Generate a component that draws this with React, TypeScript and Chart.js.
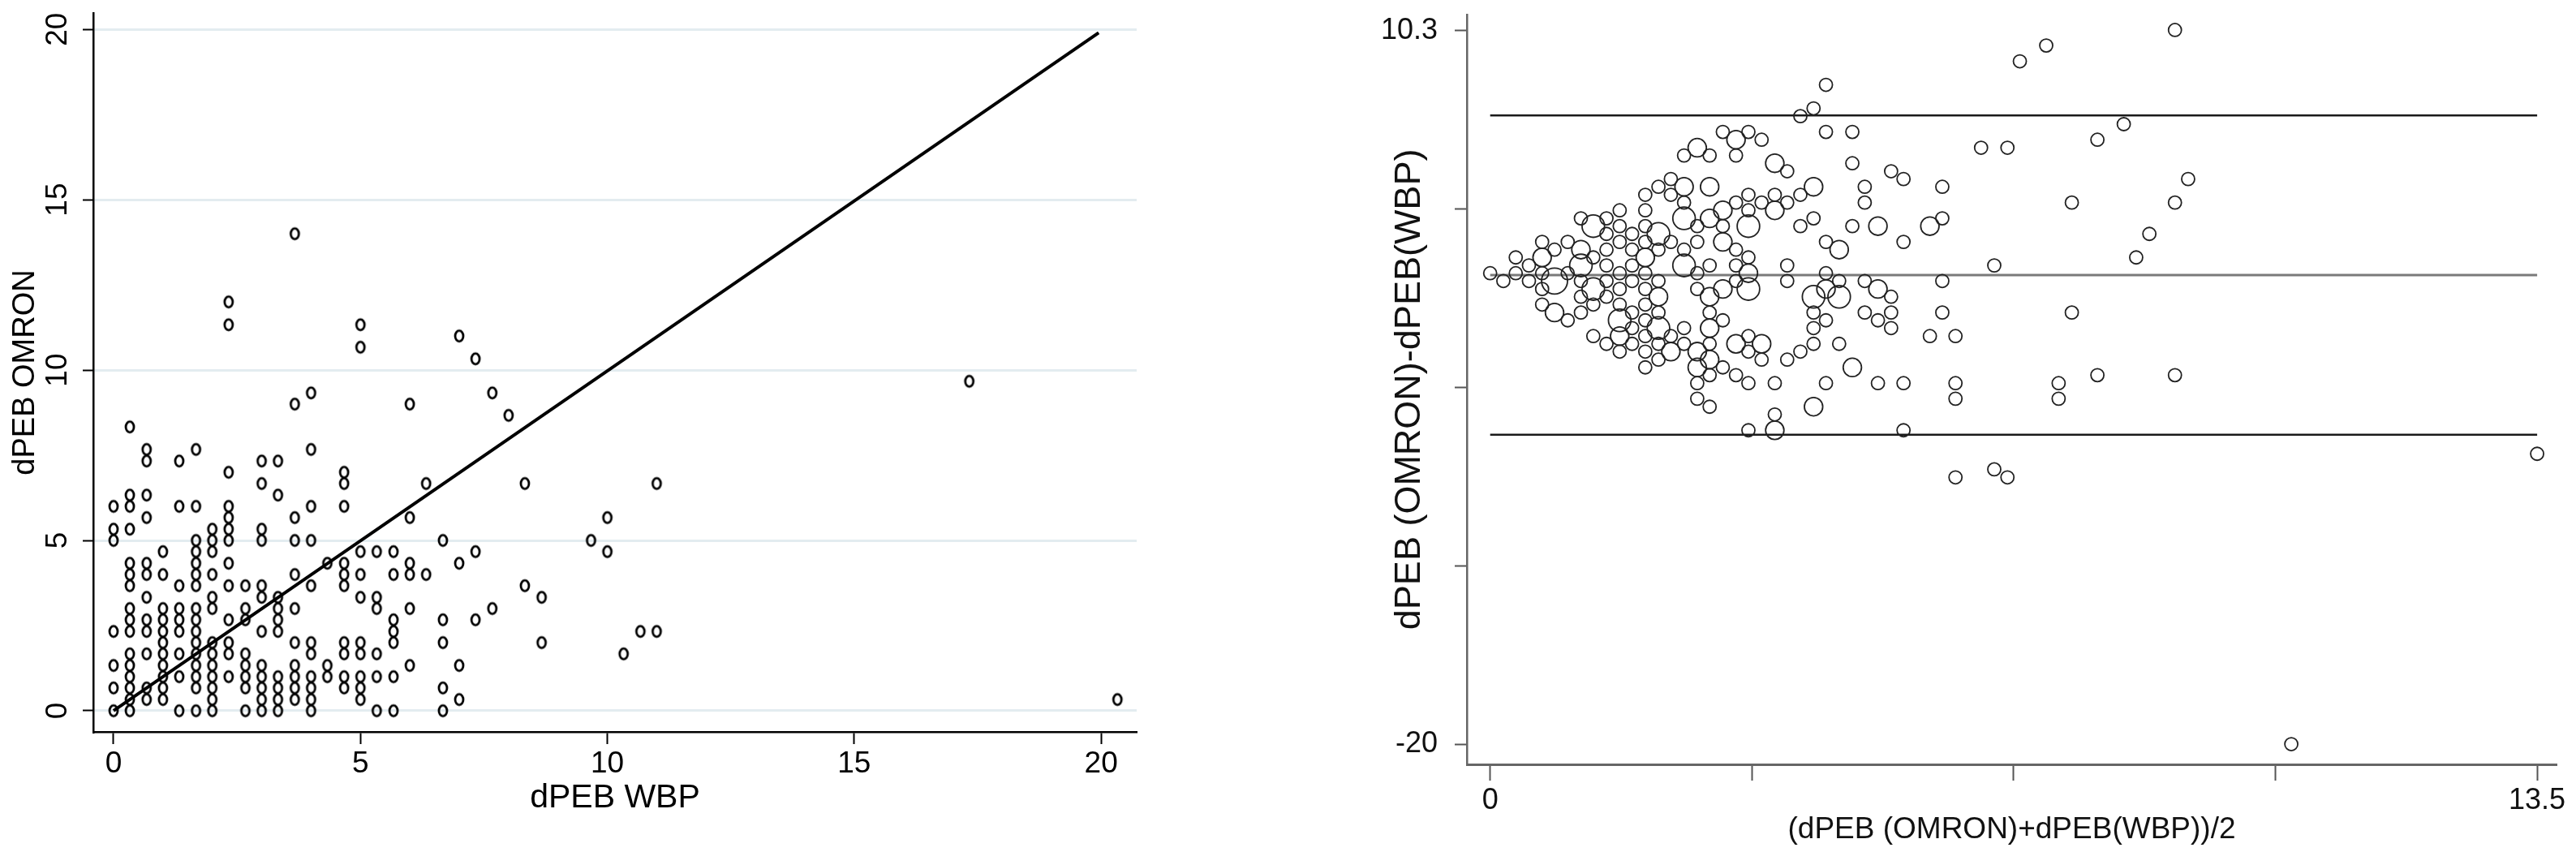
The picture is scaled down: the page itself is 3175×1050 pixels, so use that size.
import React, { useEffect, useRef } from "react";
import { Chart, registerables } from "chart.js";

Chart.register(...registerables);

const FONT = "'Liberation Sans', Arial, Helvetica, sans-serif";

// ---------------- Left panel: dPEB OMRON vs dPEB WBP ----------------
const wbpColumns = [
  0, 0.33, 0.67, 1, 1.33, 1.67, 2, 2.33, 2.67, 3, 3.33, 3.67, 4, 4.33, 4.67, 5,
  5.33, 5.67, 6, 6.33, 6.67, 7, 7.33, 7.67, 8, 8.33, 8.67, 9.67, 10, 10.33, 10.67,
  11, 17.33, 20.33,
];
const omronByColumn = [
  [6, 5.33, 5, 2.33, 1.33, 0.67, 0],
  [8.33, 6.33, 6, 5.33, 4.33, 4, 3.67, 3, 2.67, 2.33, 1.67, 1.33, 1, 0.67, 0.33, 0],
  [7.67, 7.33, 6.33, 5.67, 4.33, 4, 3.33, 2.67, 2.33, 1.67, 0.67, 0.33],
  [4.67, 4, 3, 2.67, 2.33, 2, 1.67, 1.33, 1, 0.67, 0.33],
  [7.33, 6, 3.67, 3, 2.67, 2.33, 1.67, 1, 0],
  [7.67, 6, 5, 4.67, 4.33, 4, 3.67, 3, 2.67, 2.33, 2, 1.67, 1.33, 1, 0.67, 0],
  [5.33, 5, 4.67, 4, 3.33, 3, 2, 1.67, 1.33, 1, 0.67, 0.33, 0],
  [12, 11.33, 7, 6, 5.67, 5.33, 5, 4.33, 3.67, 2.67, 2, 1.67, 1],
  [3.67, 3, 2.67, 1.67, 1.33, 1, 0.67, 0],
  [7.33, 6.67, 5.33, 5, 3.67, 3.33, 2.33, 1.33, 1, 0.67, 0.33, 0],
  [7.33, 6.33, 3.33, 3, 2.67, 2.33, 1, 0.67, 0.33, 0],
  [14, 9, 5.67, 5, 4, 3, 2, 1.33, 1, 0.67, 0.33],
  [9.33, 7.67, 6, 5, 3.67, 2, 1.67, 1, 0.67, 0.33, 0],
  [4.33, 1.33, 1],
  [7, 6.67, 6, 4.33, 4, 3.67, 2, 1.67, 1, 0.67],
  [11.33, 10.67, 4.67, 4, 3.33, 2, 1.67, 1, 0.67, 0.33],
  [4.67, 3.33, 3, 1.67, 1, 0],
  [4.67, 4, 2.67, 2.33, 2, 1, 0],
  [9, 5.67, 4.33, 4, 3, 1.33],
  [6.67, 4],
  [5, 2.67, 2, 0.67, 0],
  [11, 4.33, 1.33, 0.33],
  [10.33, 4.67, 2.67],
  [9.33, 3],
  [8.67],
  [6.67, 3.67],
  [3.33, 2],
  [5],
  [5.67, 4.67],
  [1.67],
  [2.33],
  [6.67, 2.33],
  [9.67],
  [0.33],
];
const leftXTicks = [0, 5, 10, 15, 20];
const leftYTicks = [0, 5, 10, 15, 20];
const identityX = [0, 19.95];
const identityY = [0, 19.9];

// ---------------- Right panel: Bland-Altman ----------------
const baMean = [
  [3, 2.67, 2.5, 1.17, 0.67, 0.33, 0],
  [4.33, 3.33, 3.17, 2.83, 2.33, 2.17, 2, 1.67, 1.5, 1.33, 1, 0.83, 0.67, 0.5, 0.33, 0.17],
  [4.17, 4, 3.5, 3.17, 2.5, 2.33, 2, 1.67, 1.5, 1.17, 0.67, 0.5],
  [2.83, 2.5, 2, 1.83, 1.67, 1.5, 1.33, 1.17, 1, 0.83, 0.67],
  [4.33, 3.67, 2.5, 2.17, 2, 1.83, 1.5, 1.17, 0.67],
  [4.67, 3.83, 3.33, 3.17, 3, 2.83, 2.67, 2.33, 2.17, 2, 1.83, 1.67, 1.5, 1.33, 1.17, 0.83],
  [3.67, 3.5, 3.33, 3, 2.67, 2.5, 2, 1.83, 1.67, 1.5, 1.33, 1.17, 1],
  [7.17, 6.83, 4.67, 4.17, 4, 3.83, 3.67, 3.33, 3, 2.5, 2.17, 2, 1.67],
  [3.17, 2.83, 2.67, 2.17, 2, 1.83, 1.67, 1.33],
  [5.17, 4.83, 4.17, 4, 3.33, 3.17, 2.67, 2.17, 2, 1.83, 1.67, 1.5],
  [5.33, 4.83, 3.33, 3.17, 3, 2.83, 2.17, 2, 1.83, 1.67],
  [8.83, 6.33, 4.67, 4.33, 3.83, 3.33, 2.83, 2.5, 2.33, 2.17, 2],
  [6.67, 5.83, 5, 4.5, 3.83, 3, 2.83, 2.5, 2.33, 2.17, 2],
  [4.33, 2.83, 2.67],
  [5.83, 5.67, 5.33, 4.5, 4.33, 4.17, 3.33, 3.17, 2.83, 2.67],
  [8.17, 7.83, 4.83, 4.5, 4.17, 3.5, 3.33, 3, 2.83, 2.67],
  [5, 4.33, 4.17, 3.5, 3.17, 2.67],
  [5.17, 4.83, 4.17, 4, 3.83, 3.33, 2.83],
  [7.5, 5.83, 5.17, 5, 4.5, 3.67],
  [6.5, 5.17],
  [5.83, 4.67, 4.33, 3.67, 3.33],
  [9, 5.67, 4.17, 3.67],
  [8.83, 6, 5],
  [8.5, 5.33],
  [8.33],
  [7.5, 6],
  [6, 5.33],
  [7.33],
  [7.83, 7.33],
  [6],
  [6.5],
  [8.83, 6.67],
  [13.5],
  [10.33],
];
const baDiff = [
  [6, 5.33, 5, 2.33, 1.33, 0.67, 0],
  [8, 6, 5.67, 5, 4, 3.67, 3.33, 2.67, 2.33, 2, 1.33, 1, 0.67, 0.33, 0, -0.33],
  [7, 6.67, 5.67, 5, 3.67, 3.33, 2.67, 2, 1.67, 1, 0, -0.33],
  [3.67, 3, 2, 1.67, 1.33, 1, 0.67, 0.33, 0, -0.33, -0.67],
  [6, 4.67, 2.33, 1.67, 1.33, 1, 0.33, -0.33, -1.33],
  [6, 4.33, 3.33, 3, 2.67, 2.33, 2, 1.33, 1, 0.67, 0.33, 0, -0.33, -0.67, -1, -1.67],
  [3.33, 3, 2.67, 2, 1.33, 1, 0, -0.33, -0.67, -1, -1.33, -1.67, -2],
  [9.67, 9, 4.67, 3.67, 3.33, 3, 2.67, 2, 1.33, 0.33, -0.33, -0.67, -1.33],
  [1, 0.33, 0, -1, -1.33, -1.67, -2, -2.67],
  [4.33, 3.67, 2.33, 2, 0.67, 0.33, -0.67, -1.67, -2, -2.33, -2.67, -3],
  [4, 3, 0, -0.33, -0.67, -1, -2.33, -2.67, -3, -3.33],
  [10.33, 5.33, 2, 1.33, 0.33, -0.67, -1.67, -2.33, -2.67, -3, -3.33],
  [5.33, 3.67, 2, 1, -0.33, -2, -2.33, -3, -3.33, -3.67, -4],
  [0, -3, -3.33],
  [2.33, 2, 1.33, -0.33, -0.67, -1, -2.67, -3, -3.67, -4],
  [6.33, 5.67, -0.33, -1, -1.67, -3, -3.33, -4, -4.33, -4.67],
  [-0.67, -2, -2.33, -3.67, -4.33, -5.33],
  [-1, -1.67, -3, -3.33, -3.67, -4.67, -5.67],
  [3, -0.33, -1.67, -2, -3, -4.67],
  [0.33, -2.33],
  [-1.67, -4, -4.67, -6, -6.67],
  [4, -2.67, -5.67, -6.67],
  [3, -2.67, -4.67],
  [1.67, -4.67],
  [0.67],
  [-1.67, -4.67],
  [-5.33, -6.67],
  [-4.67],
  [-4.33, -5.33],
  [-8.67],
  [-8.33],
  [-4.33, -8.67],
  [-7.67],
  [-20],
];
const baCount = [
  [1, 2, 1, 1, 1, 1, 1],
  [1, 1, 2, 1, 1, 1, 1, 1, 1, 3, 1, 1, 2, 1, 1, 1],
  [1, 1, 1, 1, 2, 1, 1, 1, 1, 2, 1, 1],
  [2, 1, 1, 1, 1, 1, 1, 3, 1, 4, 1],
  [1, 2, 3, 3, 1, 1, 1, 1, 1],
  [1, 1, 1, 1, 2, 2, 1, 1, 1, 2, 1, 1, 1, 3, 1, 2],
  [1, 1, 1, 1, 1, 1, 1, 1, 1, 1, 1, 1, 1],
  [1, 1, 1, 2, 1, 1, 2, 3, 2, 3, 1, 1, 1],
  [1, 1, 1, 2, 1, 1, 3, 1],
  [1, 1, 1, 1, 1, 1, 1, 1, 1, 1, 2, 1],
  [1, 1, 2, 1, 2, 2, 3, 1, 1, 1],
  [1, 1, 1, 1, 1, 3, 1, 1, 1, 1, 1],
  [1, 1, 2, 2, 1, 1, 2, 1, 2, 1, 1],
  [1, 1, 2],
  [1, 2, 1, 1, 2, 3, 1, 2, 2, 2],
  [1, 1, 1, 3, 1, 2, 1, 1, 1, 1],
  [2, 1, 1, 1, 1, 1],
  [1, 1, 1, 1, 1, 1, 1],
  [1, 1, 1, 1, 1, 1],
  [1, 1],
  [1, 2, 1, 1, 1],
  [1, 1, 2, 2],
  [1, 1, 1],
  [1, 1],
  [1],
  [1, 1],
  [1, 1],
  [1],
  [1, 1],
  [1],
  [1],
  [1, 1],
  [1],
  [1],
];
const baXTicks = [0, 3.375, 6.75, 10.125, 13.5];
const baXLabels = ["0", "", "", "", "13.5"];
const baYTicks = [-20, -12.425, -4.85, 2.725, 10.3];
const baYLabels = ["-20", "", "", "", "10.3"];
const baLineX = [0, 13.5];
const baUpperLimit = 6.7;
const baMeanDiff = -0.08;
const baLowerLimit = -6.86;

const BUBBLE_BASE_R = 8;

function makeEllipseMarker(rx: number, ry: number, lw: number) {
  const c = document.createElement("canvas");
  const w = Math.ceil(2 * (rx + lw) + 2);
  const h = Math.ceil(2 * (ry + lw) + 2);
  c.width = w;
  c.height = h;
  const ctx = c.getContext("2d")!;
  ctx.strokeStyle = "#000";
  ctx.lineWidth = lw;
  ctx.beginPath();
  ctx.ellipse(w / 2, h / 2, rx, ry, 0, 0, Math.PI * 2);
  ctx.stroke();
  return c;
}

const leftYLabelPlugin = {
  id: "leftYLabels",
  afterDraw(chart: any) {
    const s = chart.scales.y;
    const ctx = chart.ctx;
    ctx.save();
    ctx.fillStyle = "#000";
    ctx.font = `37px ${FONT}`;
    ctx.textAlign = "center";
    ctx.textBaseline = "middle";
    leftYTicks.forEach((v) => {
      const y = s.getPixelForValue(v);
      ctx.save();
      ctx.translate(72, y);
      ctx.rotate(-Math.PI / 2);
      ctx.fillText(String(v), 0, 0);
      ctx.restore();
    });
    ctx.restore();
  },
};

function LeftChart() {
  const ref = useRef<HTMLCanvasElement>(null);
  useEffect(() => {
    if (!ref.current) return;
    const pts: { x: number; y: number }[] = [];
    wbpColumns.forEach((x, i) => omronByColumn[i].forEach((y) => pts.push({ x, y })));
    const marker = makeEllipseMarker(5.0, 6.6, 2.8);
    const chart = new Chart(ref.current, {
      type: "scatter",
      data: {
        datasets: [
          {
            type: "scatter",
            data: pts,
            pointStyle: marker,
            pointRadius: 6,
            pointHoverRadius: 6,
            order: 2,
          } as any,
          {
            type: "line",
            data: identityX.map((x, i) => ({ x, y: identityY[i] })),
            borderColor: "#000",
            borderWidth: 4,
            pointRadius: 0,
            fill: false,
            order: 1,
          } as any,
        ],
      },
      options: {
        responsive: false,
        animation: false,
        events: [],
        layout: { padding: { left: 0, top: 16, right: 159, bottom: 0 } },
        plugins: { legend: { display: false }, tooltip: { enabled: false } },
        scales: {
          x: {
            type: "linear",
            min: -0.41,
            max: 20.72,
            afterBuildTicks: (s: any) => {
              s.ticks = leftXTicks.map((v) => ({ value: v }));
            },
            afterFit: (s: any) => {
              s.height = 148;
              s.paddingLeft = 0;
              s.paddingRight = 0;
            },
            grid: { drawOnChartArea: false, drawTicks: true, tickLength: 15, tickWidth: 2, tickColor: "#000" },
            border: { display: true, color: "#000", width: 2.5 },
            ticks: { color: "#000", font: { family: FONT, size: 37 }, padding: 3, autoSkip: false, maxRotation: 0 },
            title: {
              display: true,
              text: "dPEB WBP",
              color: "#000",
              font: { family: FONT, size: 41 },
              padding: { top: 0, bottom: 42 },
            },
          },
          y: {
            type: "linear",
            min: -0.62,
            max: 20.48,
            afterBuildTicks: (s: any) => {
              s.ticks = leftYTicks.map((v) => ({ value: v }));
            },
            afterFit: (s: any) => {
              s.width = 115;
              s.paddingTop = 0;
              s.paddingBottom = 0;
            },
            grid: {
              drawOnChartArea: true,
              color: "#e3ecf0",
              lineWidth: 3,
              drawTicks: true,
              tickLength: 13,
              tickWidth: 2,
              tickColor: "#000",
            },
            border: { display: true, color: "#000", width: 2.5 },
            ticks: { display: false },
            title: {
              display: true,
              text: "dPEB OMRON",
              color: "#000",
              font: { family: FONT, size: 38 },
              padding: { top: 9, bottom: 0 },
            },
          },
        },
      },
      plugins: [leftYLabelPlugin],
    });
    return () => chart.destroy();
  }, []);
  return (
    <canvas
      ref={ref}
      width={1560}
      height={1050}
      style={{ position: "absolute", left: 0, top: 0, width: 1560, height: 1050 }}
    />
  );
}

function RightChart() {
  const ref = useRef<HTMLCanvasElement>(null);
  useEffect(() => {
    if (!ref.current) return;
    const bubbles: { x: number; y: number; r: number }[] = [];
    baMean.forEach((group, i) =>
      group.forEach((m, j) =>
        bubbles.push({ x: m, y: baDiff[i][j], r: BUBBLE_BASE_R * Math.sqrt(baCount[i][j]) })
      )
    );
    const hLine = (y: number, color: string, width: number) => ({
      type: "line",
      data: baLineX.map((x) => ({ x, y })),
      borderColor: color,
      borderWidth: width,
      pointRadius: 0,
      fill: false,
      order: 2,
    });
    const chart = new Chart(ref.current, {
      type: "bubble",
      data: {
        datasets: [
          hLine(baUpperLimit, "#1a1a1a", 2.5) as any,
          hLine(baMeanDiff, "#7a7a7a", 3) as any,
          hLine(baLowerLimit, "#1a1a1a", 2.5) as any,
          {
            type: "bubble",
            data: bubbles,
            borderColor: "#222",
            borderWidth: 1.8,
            backgroundColor: "rgba(0,0,0,0)",
            hoverRadius: 0,
            order: 1,
          } as any,
        ],
      },
      options: {
        responsive: false,
        animation: false,
        events: [],
        layout: { padding: { left: 0, top: 16, right: 24, bottom: 0 } },
        plugins: { legend: { display: false }, tooltip: { enabled: false } },
        scales: {
          x: {
            type: "linear",
            min: -0.3,
            max: 13.75,
            afterBuildTicks: (s: any) => {
              s.ticks = baXTicks.map((v) => ({ value: v }));
            },
            afterFit: (s: any) => {
              s.height = 108;
              s.paddingLeft = 0;
              s.paddingRight = 0;
            },
            grid: { drawOnChartArea: false, drawTicks: true, tickLength: 20, tickWidth: 2, tickColor: "#555" },
            border: { display: true, color: "#666", width: 3 },
            ticks: {
              callback: (_v: any, i: number) => baXLabels[i],
              color: "#111",
              font: { family: FONT, size: 36 },
              padding: 3,
              autoSkip: false,
              maxRotation: 0,
            },
            title: {
              display: true,
              text: "(dPEB (OMRON)+dPEB(WBP))/2",
              color: "#111",
              font: { family: FONT, size: 37 },
              padding: { top: 0, bottom: 5 },
            },
          },
          y: {
            type: "linear",
            min: -20.86,
            max: 10.99,
            afterBuildTicks: (s: any) => {
              s.ticks = baYTicks.map((v) => ({ value: v }));
            },
            afterFit: (s: any) => {
              s.width = 248;
              s.paddingTop = 0;
              s.paddingBottom = 0;
            },
            grid: { drawOnChartArea: false, drawTicks: true, tickLength: 15, tickWidth: 2, tickColor: "#555" },
            border: { display: true, color: "#666", width: 2.5 },
            ticks: {
              callback: (_v: any, i: number) => baYLabels[i],
              color: "#111",
              font: { family: FONT, size: 36 },
              padding: 21,
              autoSkip: false,
            },
            title: {
              display: true,
              text: "dPEB (OMRON)-dPEB(WBP)",
              color: "#111",
              font: { family: FONT, size: 45 },
              padding: { top: 151, bottom: 0 },
            },
          },
        },
      },
    });
    return () => chart.destroy();
  }, []);
  return (
    <canvas
      ref={ref}
      width={1615}
      height={1050}
      style={{ position: "absolute", left: 1560, top: 0, width: 1615, height: 1050 }}
    />
  );
}

export default function App() {
  return (
    <div
      style={{
        position: "absolute",
        left: 0,
        top: 0,
        width: 3175,
        height: 1050,
        background: "#fff",
        overflow: "hidden",
      }}
    >
      <LeftChart />
      <RightChart />
    </div>
  );
}
